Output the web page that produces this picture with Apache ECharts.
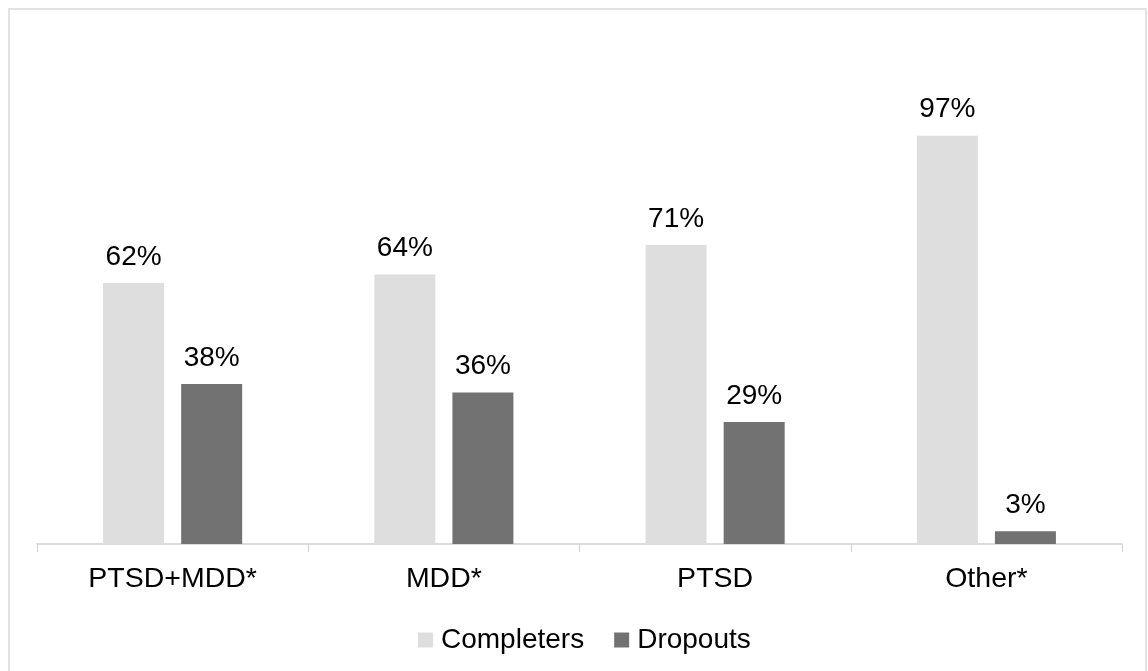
<!DOCTYPE html>
<html>
<head>
<meta charset="utf-8">
<script src="https://cdn.jsdelivr.net/npm/echarts@6/dist/echarts.min.js"></script>
<style>
  html, body { margin: 0; padding: 0; background: #fff; }
  #chart { width: 1148px; height: 671px; }
</style>
</head>
<body>
<div id="chart"></div>
<script>
// categories and values
const categories = ["PTSD+MDD*", "MDD*", "PTSD", "Other*"];
const completers = [62, 64, 71, 97];
const dropouts = [38, 36, 29, 3];

const font = "'Liberation Sans', Arial, sans-serif";

let chart = echarts.init(document.getElementById("chart"));
let option = {
  backgroundColor: "#fff",
  animation: false,
  graphic: [
    {
      // light frame round the chart
      type: "rect",
      shape: { x: 9, y: 9, width: 1137, height: 700 },
      style: { fill: "none", stroke: "#e2e2e2", lineWidth: 2 },
      silent: true,
    },
  ],
  grid: {
    left: 37,
    right: 26,
    top: 123,
    bottom: 127,
  },
  legend: {
    left: 413,
    top: 621,
    itemWidth: 15,
    itemHeight: 15,
    itemGap: 30,
    icon: "rect",
    textStyle: {
      fontFamily: font,
      fontSize: 28,
      color: "#000",
      padding: [0, 0, 0, 3],
    },
    data: ["Completers", "Dropouts"],
  },
  xAxis: {
    type: "category",
    data: categories,
    axisLine: { lineStyle: { color: "#d0d0d0", width: 1.5 } },
    axisTick: { show: true, length: 8, lineStyle: { color: "#d0d0d0" } },
    axisLabel: {
      fontFamily: font,
      fontSize: 28.5,
      color: "#000",
      margin: 21,
    },
  },
  yAxis: {
    type: "value",
    min: 0,
    max: 100,
    show: false,
    splitLine: { show: false },
  },
  series: [
    {
      name: "Completers",
      type: "bar",
      data: completers,
      barWidth: 61,
      barGap: "28%",
      itemStyle: { color: "#dedede" },
      label: {
        show: true,
        position: "top",
        distance: 12,
        formatter: "{c}%",
        fontFamily: font,
        fontSize: 28,
        color: "#000",
      },
    },
    {
      name: "Dropouts",
      type: "bar",
      data: dropouts,
      barWidth: 61,
      itemStyle: { color: "#727272" },
      label: {
        show: true,
        position: "top",
        distance: 12,
        formatter: "{c}%",
        fontFamily: font,
        fontSize: 28,
        color: "#000",
      },
    },
  ],
};
chart.setOption(option);
</script>
</body>
</html>
